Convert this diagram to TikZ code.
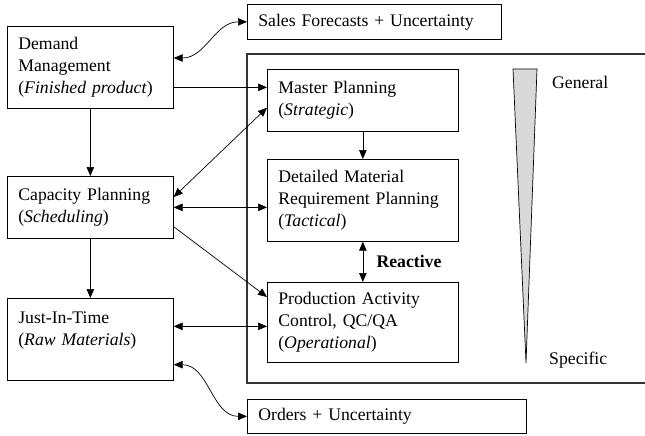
\documentclass[tikz,border=0pt]{standalone}
\usepackage{fontspec}
\setmainfont{Liberation Serif}
\usetikzlibrary{arrows.meta}

\tikzset{
  box/.style={draw, line width=0.7pt, anchor=north west, align=left,
    inner xsep=11pt, inner ysep=0pt},
  link/.style={line width=0.7pt},
  frame/.style={line width=1.4pt, black!80},
  >={Triangle[length=9pt,width=7.5pt]}
}

\begin{document}
\begin{tikzpicture}[x=1pt, y=-1pt, font=\fontsize{17.7}{22}\selectfont]
\useasboundingbox (0,0) rectangle (645,436);

% left column
\node[box, text width=144pt, minimum height=82pt] (dm) at (7,26)
  {Demand\\Management\\(\textit{Finished product})};
\node[box, text width=144pt, minimum height=62pt] (cp) at (7,176)
  {Capacity Planning\\(\textit{Scheduling})};
\node[box, text width=144pt, minimum height=82pt] (jit) at (7,298)
  {Just-In-Time\\(\textit{Raw Materials})\\\mbox{}};

% planning levels inside the frame
\draw[frame] (645,54) -- (247,54) -- (247,383) -- (645,383);
\node[box, text width=169pt, minimum height=62pt] (mp) at (267,69)
  {Master Planning\\(\textit{Strategic})};
\node[box, text width=169pt, minimum height=82pt] (dmrp) at (267,159)
  {Detailed Material\\Requirement Planning\\(\textit{Tactical})};
\node[box, text width=169pt, minimum height=80pt] (pac) at (267,282)
  {Production Activity\\Control, QC/QA\\(\textit{Operational})};

% inputs
\node[box, text width=232pt, minimum height=35pt] (sales) at (247,4)
  {Sales Forecasts + Uncertainty};
\node[box, text width=257pt, minimum height=34pt] (orders) at (247,399)
  {Orders + Uncertainty};

% general -> specific wedge
\filldraw[link, fill=gray!30] (513,69) -- (537,69) -- (526,363) -- cycle;
\node[anchor=west, inner sep=0pt] (gen) at (552,82) {General};
\node[anchor=west, inner sep=0pt] (spec) at (549,360) {Specific};

% connections
\draw[link, ->] (dm) -- (cp);
\draw[link, ->] (cp) -- (jit);
\coordinate (m) at ([yshift=13pt]mp.west);
\draw[link, ->] (m -| dm.east) -- (m);
\draw[link, ->] (mp) -- (dmrp);
\draw[link, <->] (dmrp) -- node[right=10pt, font=\fontsize{17.7}{22}\selectfont\bfseries] (re) {Reactive} (pac);
\draw[link, <->] ([yshift=-21pt]cp.north east) -- ([yshift=24pt]mp.south west);
\draw[link, <->] (cp.east) -- (cp.east -| dmrp.west);
\draw[link, ->] ([yshift=12pt]cp.south east) -- ([yshift=-15pt]pac.north west);
\coordinate (j) at ([yshift=-4pt]pac.west);
\draw[link, <->] (j -| jit.east) -- (j);
\draw[link, <->] ([yshift=-32pt]dm.north east) to[out=0, in=180] (sales.west);
\draw[link, <->] ([yshift=16pt]jit.south east) to[out=0, in=180] (orders.west);
\end{tikzpicture}
\end{document}
